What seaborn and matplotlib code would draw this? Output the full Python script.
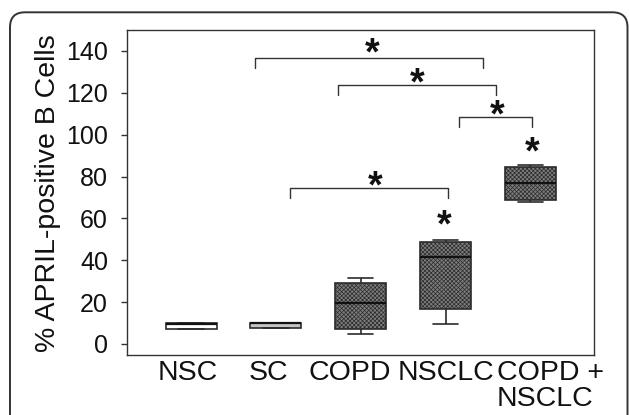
import numpy as np
import pandas as pd
import matplotlib
matplotlib.use("Agg")
import matplotlib.pyplot as plt
from matplotlib.patches import FancyBboxPatch
from matplotlib.transforms import ScaledTranslation
import seaborn as sns

# groups on the x axis
groups = ["NSC", "SC", "COPD", "NSCLC", "COPD +\nNSCLC"]

# five-number summaries: min, q1, median, q3, max
nsc = [7.0, 7.0, 9.6, 10.2, 10.2]
sc = [7.6, 7.6, 9.9, 9.9, 9.9]
copd = [4.8, 7.3, 19.6, 29.3, 31.7]
nsclc = [9.7, 16.5, 41.5, 48.7, 49.6]
copd_nsclc = [67.9, 68.7, 76.7, 84.6, 85.6]

# significance brackets (start, end, height) and asterisk positions
bracket_x0 = [0.75, 1.73, 3.16, 1.17]
bracket_x1 = [3.44, 3.60, 4.02, 3.03]
bracket_y = [136.4, 123.6, 108.5, 74.3]
star_x = [2.14, 2.67, 3.61, 2.17, 2.98, 4.02]
star_y = [143.5, 129.2, 113.7, 79.9, 61.1, 96.3]

y_ticks = [0, 20, 40, 60, 80, 100, 120, 140]

df = pd.DataFrame({
    "group": np.repeat(groups, 5),
    "value": nsc + sc + copd + nsclc + copd_nsclc,
})

sns.set_theme(style="white")
plt.rcParams["font.family"] = ["Liberation Sans", "DejaVu Sans"]
plt.rcParams["hatch.linewidth"] = 0.5

fig = plt.figure(figsize=(6.29, 4.15), dpi=100)
ax = fig.add_axes([0.2027, 0.1434, 0.7417, 0.7843])

sns.boxplot(
    data=df, x="group", y="value", order=groups,
    width=0.6, whis=np.inf, color="#7a7a7a",
    linecolor="#2b2b2b", linewidth=1.2,
    medianprops=dict(color="#111111", linewidth=1.6),
    ax=ax,
)

# box fills: plain white / light gray for controls, hatched dark gray otherwise
box_faces = ["white", "#c4c4c4", "#7d7d7d", "#7d7d7d", "#7d7d7d"]
box_hatch = [None, None, "xxxxxxxx", "xxxxxxxx", "xxxxxxxx"]
boxes = sorted(ax.patches, key=lambda p: p.get_path().vertices[:, 0].mean())
for p, fc, h in zip(boxes, box_faces, box_hatch):
    p.set_facecolor(fc)
    p.set_edgecolor("#2b2b2b")
    if h:
        p.set_hatch(h)

# brackets
drop = 4.7
for x0, x1, y in zip(bracket_x0, bracket_x1, bracket_y):
    ax.plot([x0, x0, x1, x1], [y - drop, y, y, y - drop], color="#333333", lw=1)

star_fs = 27
for x, y in zip(star_x, star_y):
    ax.annotate("*", xy=(x, y), xytext=(0, -0.55 * star_fs), textcoords="offset points",
                ha="center", va="baseline", fontsize=star_fs, fontweight="bold", color="#111111")

ax.set_xlim(-0.75, 4.75)
ax.set_ylim(-5.5, 150)
ax.set_yticks(y_ticks)
ax.set_xlabel("")
ax.set_ylabel("% APRIL-positive B Cells", fontsize=20.5, labelpad=4, color="#111111")
ax.tick_params(axis="y", direction="out", length=4, width=1, color="#333333",
               labelsize=18, pad=10, labelcolor="#111111", left=True)
ax.tick_params(axis="x", length=0, labelsize=20.5, pad=3, labelcolor="#111111")
for s in ax.spines.values():
    s.set_visible(True)
    s.set_color("#333333")
    s.set_linewidth(1)

# nudge the category labels like in the original
label_shift_px = [-3, -7, -11, 0, 20]
for lbl, dx in zip(ax.get_xticklabels(), label_shift_px):
    lbl.set_transform(lbl.get_transform() + ScaledTranslation(dx / 100, 0, fig.dpi_scale_trans))
    lbl.set_multialignment("left")
    lbl.set_linespacing(1.0)

# rounded outer frame
frame = FancyBboxPatch((10, -60), 617.5, 415 - 12.3 + 60,
                       boxstyle="round,pad=0,rounding_size=15",
                       transform=None, fill=False, ec="#333333", lw=1.4)
fig.add_artist(frame)

fig.savefig("out.png", dpi=100, facecolor="white")
